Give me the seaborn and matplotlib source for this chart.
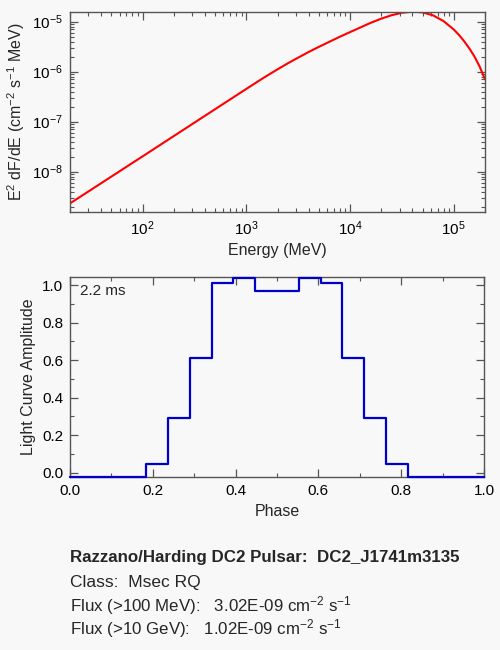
import numpy as np
import pandas as pd
import matplotlib
matplotlib.use("Agg")
import matplotlib.pyplot as plt
import seaborn as sns
from matplotlib.ticker import LogLocator, MultipleLocator, NullFormatter, FormatStrFormatter

# spectrum (MeV, E^2 dF/dE)
energy = [20, 100, 1000, 1259, 1585, 1995, 2512, 3162, 3981, 5012, 6310, 7943,
          1.0e4, 12589, 15849, 19953, 25119, 31623, 39811, 50119, 63096,
          79433, 1.0e5, 112202, 125893, 141254, 158489, 177828, 2.0e5]
e2dfde = [2.32e-9, 2.02e-8, 4.52e-7, 6.15e-7, 8.32e-7, 1.11e-6, 1.47e-6,
          1.91e-6, 2.47e-6, 3.14e-6, 3.96e-6, 4.98e-6, 6.19e-6, 7.67e-6,
          9.51e-6, 1.148e-5, 1.346e-5, 1.51e-5, 1.589e-5, 1.538e-5, 1.34e-5,
          1.033e-5, 6.98e-6, 5.43e-6, 4.07e-6, 2.92e-6, 2.0e-6, 1.26e-6,
          7.0e-7]

# light curve, 20 phase bins
phase = [j / 19 for j in range(20)]
amplitude = [-0.025, -0.025, -0.025, -0.025, 0.048, 0.291, 0.613, 1.012,
             1.036, 0.970, 0.970, 1.036, 1.012, 0.613, 0.291, 0.048,
             -0.025, -0.025, -0.025, -0.025]

period_text = "2.2 ms"
info_lines = [
    "Razzano/Harding DC2 Pulsar:  DC2_J1741m3135",
    "Class:  Msec RQ",
    "Flux (>100 MeV):   3.02E-09 cm$^{-2}$ s$^{-1}$",
    "Flux (>10 GeV):   1.02E-09 cm$^{-2}$ s$^{-1}$",
]

BG = "#f8f8f8"
FRAME = "#555555"

sns.set_theme(style="ticks")
plt.rcParams.update({
    "font.family": ["Liberation Sans", "DejaVu Sans"],
    "mathtext.fontset": "custom",
    "mathtext.rm": "Liberation Sans",
    "mathtext.it": "Liberation Sans:italic",
    "mathtext.bf": "Liberation Sans:bold",
    "figure.facecolor": BG,
    "axes.facecolor": BG,
    "axes.edgecolor": FRAME,
    "axes.linewidth": 1.0,
    "xtick.color": FRAME,
    "ytick.color": FRAME,
    "xtick.labelcolor": "black",
    "ytick.labelcolor": "black",
    "xtick.direction": "in",
    "ytick.direction": "in",
    "xtick.top": True,
    "ytick.right": True,
    "font.size": 11,
})

fig = plt.figure(figsize=(5, 6.5), dpi=100)
ax1 = fig.add_axes([0.14, 0.6734, 0.83, 0.3086])
ax2 = fig.add_axes([0.14, 0.2657, 0.828, 0.3086])

# spectrum
spec = pd.DataFrame({"E": energy, "F": e2dfde})
sns.lineplot(data=spec, x="E", y="F", ax=ax1, color="#ff0000", lw=1.5,
             estimator=None, sort=False)
ax1.set_xscale("log")
ax1.set_yscale("log")
ax1.set_xlim(20, 2.0e5)
ax1.set_ylim(1.54e-9, 1.585e-5)
ax1.xaxis.set_major_locator(LogLocator(base=10, numticks=10))
ax1.xaxis.set_minor_locator(LogLocator(base=10, subs=np.arange(2, 10), numticks=20))
ax1.yaxis.set_major_locator(LogLocator(base=10, numticks=10))
ax1.yaxis.set_minor_locator(LogLocator(base=10, subs=np.arange(2, 10), numticks=20))
ax1.xaxis.set_minor_formatter(NullFormatter())
ax1.yaxis.set_minor_formatter(NullFormatter())
ax1.set_xlabel("Energy (MeV)", fontsize=11.5, labelpad=4)
ax1.set_ylabel("E$^2$ dF/dE (cm$^{-2}$ s$^{-1}$ MeV)", fontsize=11.5, labelpad=4)

# light curve
lc = pd.DataFrame({"phase": phase, "amp": amplitude})
sns.lineplot(data=lc, x="phase", y="amp", ax=ax2, color="#0000c8", lw=1.6,
             estimator=None, sort=False, drawstyle="steps-mid", clip_on=False,
             zorder=5)
ax2.set_xlim(0, 1)
ax2.set_ylim(-0.025, 1.045)
ax2.xaxis.set_major_locator(MultipleLocator(0.2))
ax2.xaxis.set_minor_locator(MultipleLocator(0.1))
ax2.yaxis.set_major_locator(MultipleLocator(0.2))
ax2.yaxis.set_minor_locator(MultipleLocator(0.1))
ax2.xaxis.set_major_formatter(FormatStrFormatter("%.1f"))
ax2.yaxis.set_major_formatter(FormatStrFormatter("%.1f"))
ax2.set_xlabel("Phase", fontsize=11.5, labelpad=4)
ax2.set_ylabel("Light Curve Amplitude", fontsize=11.5, labelpad=4)
ax2.text(0.025, 0.965, period_text, transform=ax2.transAxes, fontsize=11,
         ha="left", va="top")

for ax in (ax1, ax2):
    ax.tick_params(which="major", length=6, width=0.9, labelsize=11, pad=5)
    ax.tick_params(which="minor", length=3, width=0.8)
    for sp in ax.spines.values():
        sp.set_visible(True)
        sp.set_color(FRAME)

ys = [562, 587, 611.5, 634]
sizes = [12.2, 12.5, 12.2, 12.2]
for i, (line, yp, fs) in enumerate(zip(info_lines, ys, sizes)):
    fig.text(0.14, 1 - yp / 650, line, va="baseline", ha="left", fontsize=fs,
             fontweight="bold" if i == 0 else "normal")

fig.savefig("out.png", dpi=100, facecolor=BG)
